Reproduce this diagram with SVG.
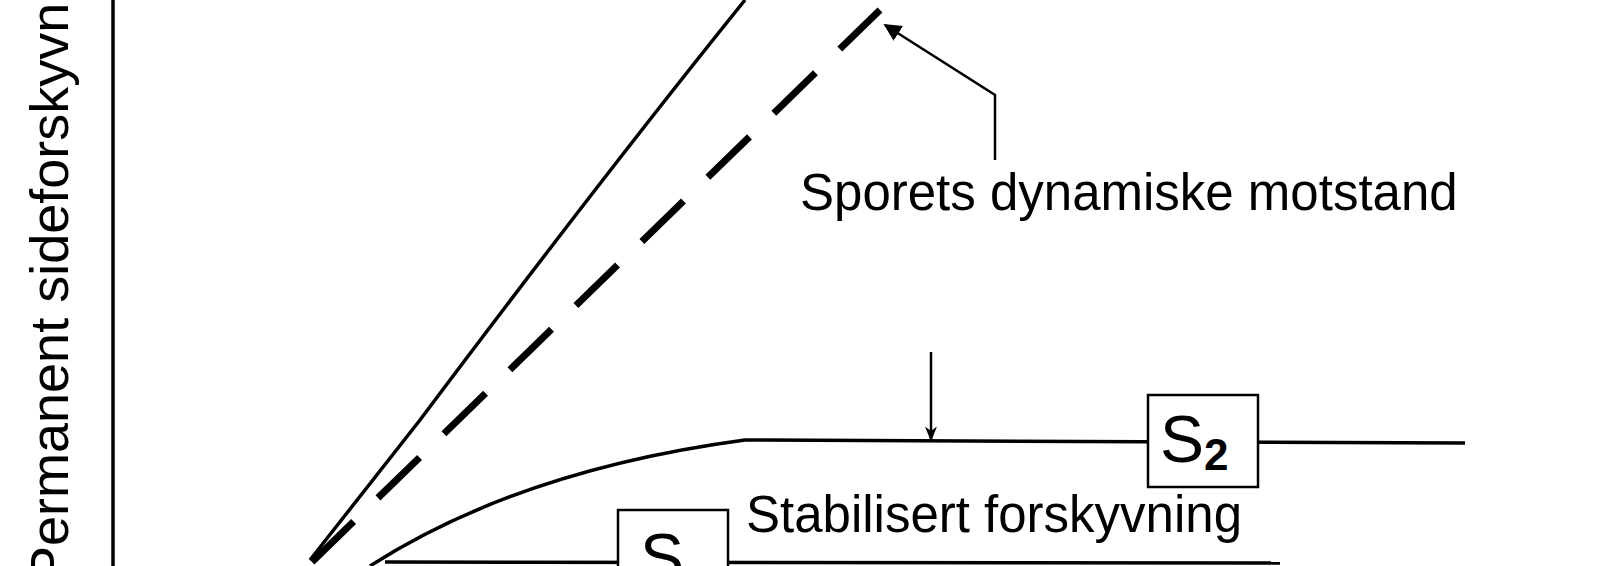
<svg xmlns="http://www.w3.org/2000/svg" width="1600" height="566" viewBox="0 0 1600 566">
<style>
.ln{fill:none;stroke:#000;stroke-width:3.5}
.dash{stroke-width:7;stroke-dasharray:58,34}
.thin{stroke-width:2.5}
.tx{font-family:"Liberation Sans",Arial,sans-serif;fill:#000}
.bx{fill:#fff;stroke:#000;stroke-width:2.5}
</style>
<defs><marker id="ah" viewBox="0 0 10 10" refX="9" refY="5" markerWidth="7" markerHeight="7" orient="auto"><path d="M0,0L10,5L0,10z" fill="#000"/></marker>
<marker id="ah2" viewBox="0 0 10 10" refX="9" refY="5" markerWidth="6" markerHeight="6" orient="auto"><path d="M0,1L10,5L0,9L3,5z" fill="#000"/></marker></defs>
<rect width="1600" height="566" fill="#fff"/>
<g id="axis"><line class="ln" x1="113" y1="0" x2="113" y2="566"/>
<text class="tx" font-size="54" transform="translate(68,582) rotate(-90)">Permanent sideforskyvn</text></g>
<g id="connectors">
<path class="ln" d="M310,560 L420,420 Q600,180 745,0"/>
<path class="ln dash" d="M312,562 L880,10"/>
<path class="ln thin" d="M995,160 L995,95 L885,25" marker-end="url(#ah)"/>
<path class="ln" d="M370,566 Q520,470 745,440 L1465,443"/>
<path class="ln thin" d="M931,352 L931,440" marker-end="url(#ah2)"/>
<path class="ln" d="M385,562 L1280,563"/>
</g>
<g id="label1"><text class="tx" x="800" y="210" font-size="51">Sporets dynamiske motstand</text></g>
<g id="S2"><rect class="bx" x="1148" y="395" width="110" height="92"/><text class="tx" x="1160" y="462" font-size="66">S<tspan font-size="44" font-weight="bold" dy="8">2</tspan></text></g>
<g id="label2"><text class="tx" x="746" y="532" font-size="51">Stabilisert forskyvning</text></g>
<g id="S1"><rect class="bx" x="618" y="510" width="110" height="70"/><text class="tx" x="640" y="580" font-size="66">S</text></g>
</svg>
